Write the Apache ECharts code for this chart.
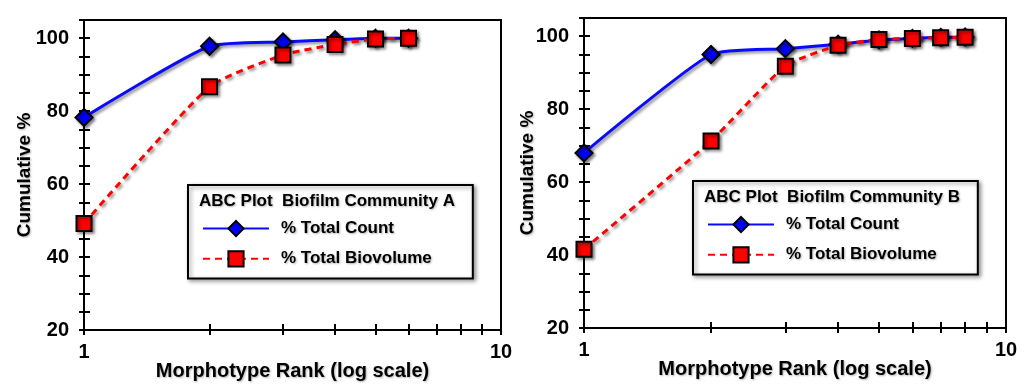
<!DOCTYPE html>
<html><head><meta charset="utf-8">
<script src="https://cdn.jsdelivr.net/npm/echarts@6/dist/echarts.min.js"></script>
<style>html,body{margin:0;padding:0;background:#fff}#c{width:1024px;height:391px}</style>
</head><body><div id="c"></div>
<script>
const ranksA = [1, 2, 3, 4, 5, 6];
const countA = [78.3, 97.8, 99.0, 99.6, 100, 100];
const bioA = [49.2, 86.7, 95.4, 98.3, 99.8, 100];
const ranksB = [1, 2, 3, 4, 5, 6, 7, 8];
const countB = [68.0, 95.0, 96.6, 97.8, 99.0, 99.4, 99.7, 99.8];
const bioB = [41.6, 71.3, 91.8, 97.5, 99.1, 99.4, 99.6, 99.7];
const xTicks = [1, 2, 3, 4, 5, 6, 7, 8, 9, 10];
const xLabels = [1, 10];
const yLabels = [20, 40, 60, 80, 100];
const titleA = 'ABC Plot  Biofilm Community A';
const titleB = 'ABC Plot  Biofilm Community B';
const nameCount = '% Total Count';
const nameBio = '% Total Biovolume';

const FONT = 'Liberation Sans';
const shadow = {shadowBlur: 3, shadowColor: 'rgba(0,0,0,0.45)', shadowOffsetX: 2, shadowOffsetY: 2};
const tshadow = {textShadowBlur: 2, textShadowColor: 'rgba(0,0,0,0.3)', textShadowOffsetX: 1, textShadowOffsetY: 1};

function pairs(xs, ys) { return xs.map((x, i) => [x, ys[i]]); }

function xAxes(gi) {
  return [
    {type: 'log', logBase: 10, min: 1, max: 10, gridIndex: gi, position: 'bottom',
     name: 'Morphotype Rank (log scale)', nameLocation: 'middle', nameGap: 31, nameMoveOverlap: false,
     nameTextStyle: Object.assign({fontFamily: FONT, fontWeight: 'bold', fontSize: 20, color: '#000'}, tshadow),
     axisLine: {lineStyle: {color: '#000', width: 2}},
     axisTick: {show: true, inside: false, length: 5, lineStyle: {color: '#000', width: 2}, customValues: xTicks},
     axisLabel: {margin: 12, fontFamily: FONT, fontWeight: 'bold', fontSize: 20, color: '#000', customValues: xLabels},
     splitLine: {show: false}, minorTick: {show: false}},
    {type: 'log', logBase: 10, min: 1, max: 10, gridIndex: gi, position: 'bottom',
     axisLine: {show: false},
     axisTick: {show: true, inside: true, length: 6, lineStyle: {color: '#000', width: 2}, customValues: xTicks},
     axisLabel: {show: false}, splitLine: {show: false}}
  ];
}
function yAxes(gi, gap) {
  return [
    {type: 'value', min: 20, max: 105, interval: 5, gridIndex: gi, position: 'left',
     name: 'Cumulative %', nameLocation: 'middle', nameGap: gap, nameRotate: 90, nameMoveOverlap: false,
     nameTextStyle: Object.assign({fontFamily: FONT, fontWeight: 'bold', fontSize: 19, color: '#000'}, tshadow),
     axisLine: {show: true, lineStyle: {color: '#000', width: 2}},
     axisTick: {show: true, inside: false, length: 5, lineStyle: {color: '#000', width: 2}},
     axisLabel: {margin: 15, fontFamily: FONT, fontWeight: 'bold', fontSize: 20, color: '#000',
       formatter: v => (yLabels.indexOf(v) >= 0 ? String(v) : '')},
     splitLine: {show: false}},
    {type: 'value', min: 20, max: 105, interval: 5, gridIndex: gi, position: 'left',
     axisLine: {show: false},
     axisTick: {show: true, inside: true, length: 6, lineStyle: {color: '#000', width: 2}},
     axisLabel: {show: false}, splitLine: {show: false}}
  ];
}
function seriesPair(xi, yi, xs, cs, bs) {
  return [
    {name: nameCount, type: 'line', xAxisIndex: xi, yAxisIndex: yi, smooth: 0.18,
     data: pairs(xs, cs), symbol: 'diamond', symbolSize: 17,
     lineStyle: Object.assign({color: '#0a0aff', width: 3}, shadow),
     itemStyle: Object.assign({color: '#0000ff', borderColor: '#000', borderWidth: 2}, shadow), z: 3},
    {name: nameBio, type: 'line', xAxisIndex: xi, yAxisIndex: yi, smooth: 0.18,
     data: pairs(xs, bs), symbol: 'rect', symbolSize: 15,
     lineStyle: Object.assign({color: '#ff0000', width: 3, type: [7, 5]}, shadow),
     itemStyle: Object.assign({color: '#ff0000', borderColor: '#000', borderWidth: 2}, shadow), z: 4}
  ];
}
function legend(left, top) {
  return {
    left: left, top: top, orient: 'vertical', selectedMode: false,
    data: [nameCount, nameBio],
    itemWidth: 66, itemHeight: 19, itemGap: 13,
    padding: [35, 41, 11, 14],
    backgroundColor: '#fff', borderColor: '#000', borderWidth: 2,
    shadowBlur: 4, shadowColor: 'rgba(0,0,0,0.4)', shadowOffsetX: 2, shadowOffsetY: 2,
    textStyle: Object.assign({fontFamily: FONT, fontWeight: 'bold', fontSize: 17, color: '#000', padding: [0, 0, 0, 7]}, tshadow)
  };
}

const chart = echarts.init(document.getElementById('c'), null, {renderer: 'canvas'});
chart.setOption({
  animation: false,
  backgroundColor: '#fff',
  grid: [
    {left: 84, right: 523, top: 20, bottom: 61, show: true, borderColor: '#000', borderWidth: 2, containLabel: false},
    {left: 584, right: 18, top: 18, bottom: 63, show: true, borderColor: '#000', borderWidth: 2, containLabel: false}
  ],
  xAxis: xAxes(0).concat(xAxes(1)),
  yAxis: yAxes(0, 50).concat(yAxes(1, 47)),
  title: [
    {text: titleA, left: 199, top: 193, textStyle: Object.assign({fontFamily: FONT, fontWeight: 'bold', fontSize: 17, color: '#000'}, tshadow), padding: 0, z: 10},
    {text: titleB, left: 704, top: 189, textStyle: Object.assign({fontFamily: FONT, fontWeight: 'bold', fontSize: 17, color: '#000'}, tshadow), padding: 0, z: 10}
  ],
  legend: [legend(188, 185), legend(693, 181)],
  series: seriesPair(0, 0, ranksA, countA, bioA).concat(seriesPair(2, 2, ranksB, countB, bioB))
});
</script></body></html>
